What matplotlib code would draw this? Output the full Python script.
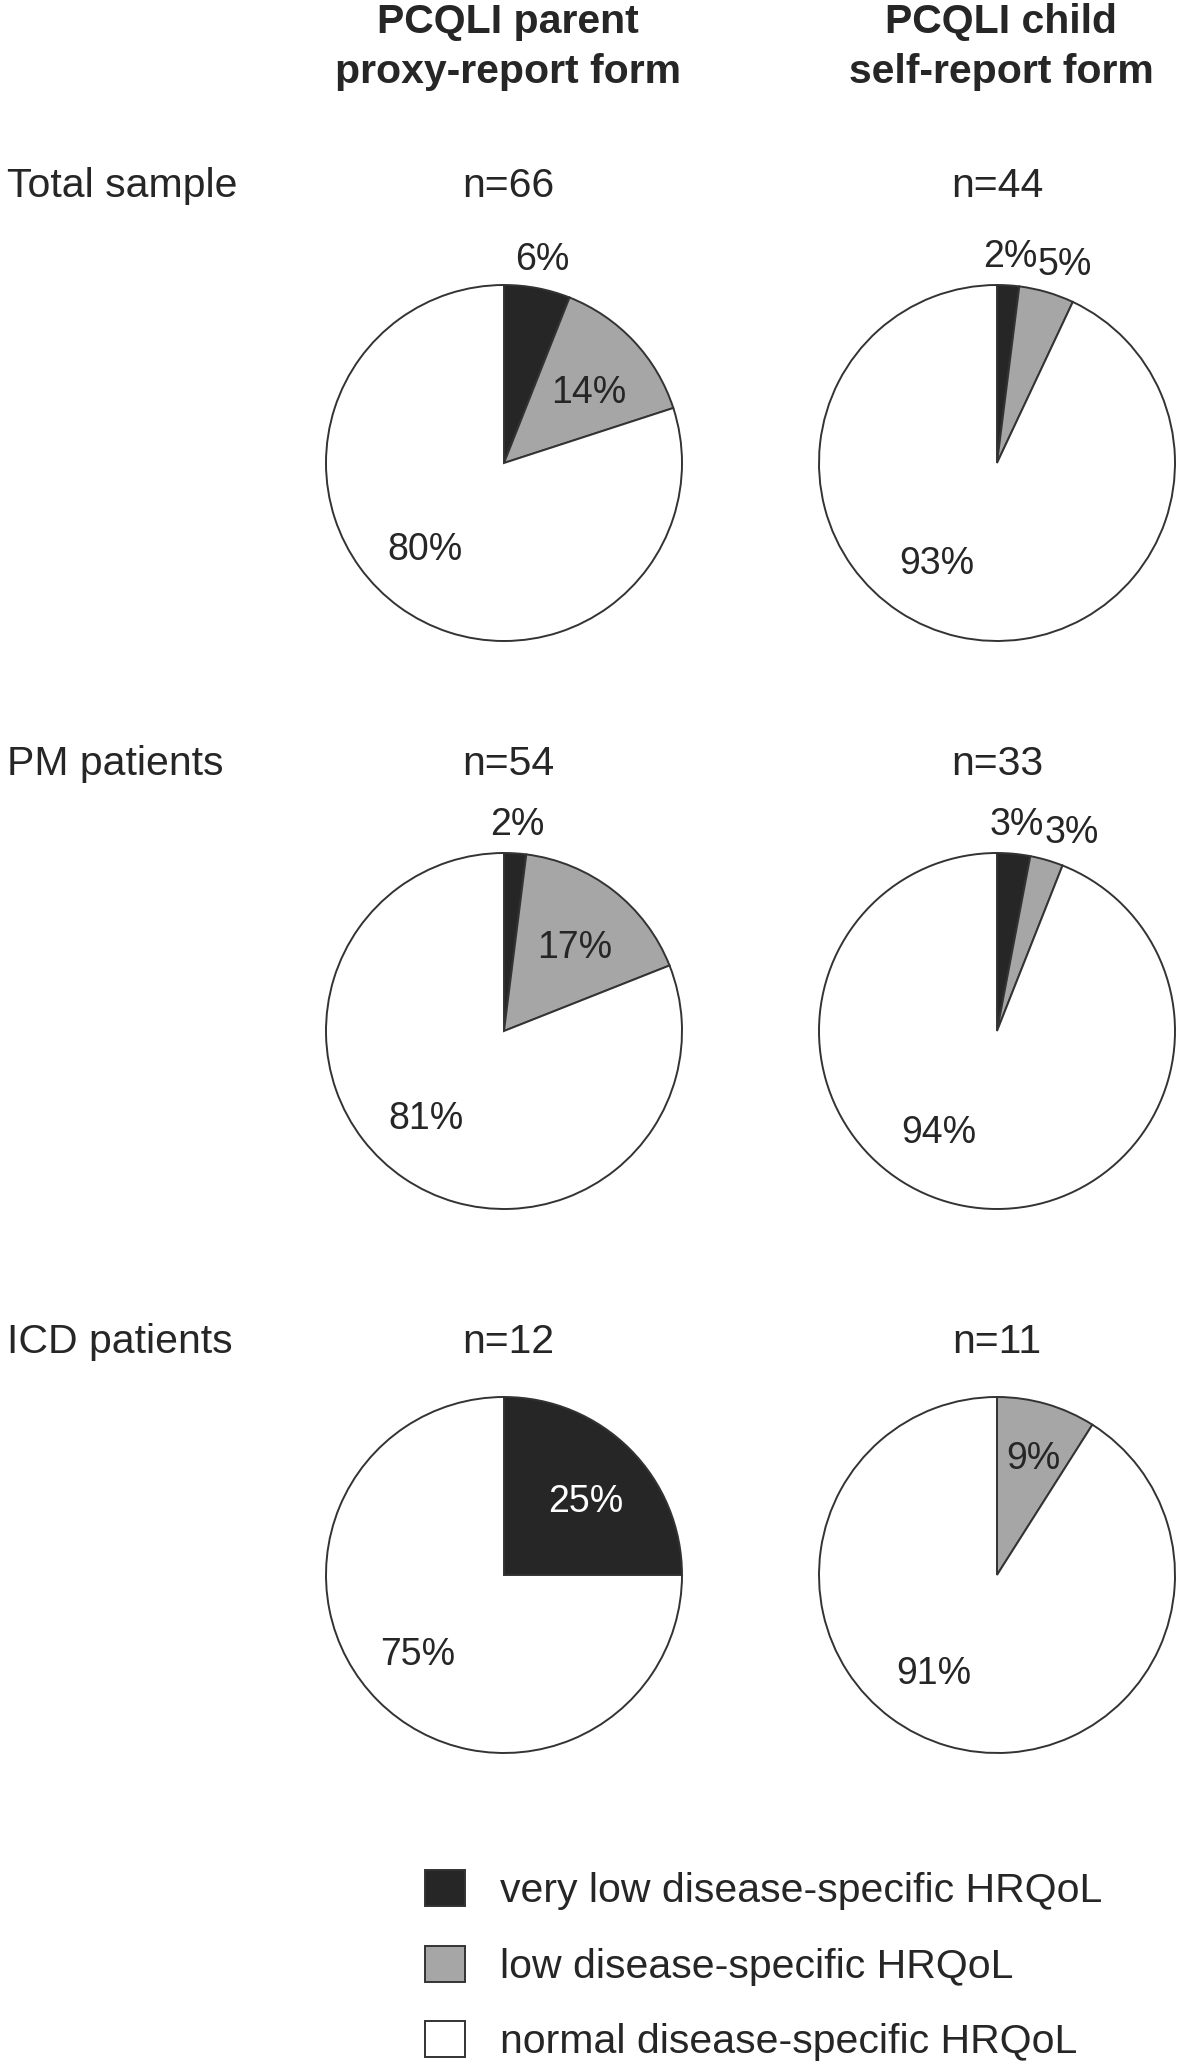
import matplotlib
matplotlib.use('Agg')
import matplotlib.pyplot as plt
from math import cos, sin, radians

plt.rcParams['font.family'] = ['Liberation Sans', 'DejaVu Sans']

# data
categories = ['very low disease-specific HRQoL', 'low disease-specific HRQoL',
              'normal disease-specific HRQoL']
column_titles = ['PCQLI parent\nproxy-report form', 'PCQLI child\nself-report form']
row_titles = ['Total sample', 'PM patients', 'ICD patients']
n_parent = [66, 54, 12]
n_child = [44, 33, 11]
parent_pct = [[6, 14, 80], [2, 17, 81], [25, 0, 75]]
child_pct = [[2, 5, 93], [3, 3, 94], [0, 9, 91]]

colors = ['#262626', '#a6a6a6', '#ffffff']
edge = '#333333'
txt = '#262626'
fs = 29.5

W, H = 1181, 2065
fig = plt.figure(figsize=(W / 100, H / 100), dpi=100)

col_x = [504, 997]
row_y = [463, 1031, 1575]
label_y = [186, 764, 1342]
R = 178
lim = 1.35


def px(x, y):
    return x / W, 1 - y / H


def draw_pie(cx, cy, vals):
    size = 2 * lim * R
    ax = fig.add_axes([(cx - size / 2) / W, (H - cy - size / 2) / H, size / W, size / H])
    wedges, _ = ax.pie(vals, colors=colors, startangle=90, counterclock=False,
                       wedgeprops=dict(edgecolor=edge, linewidth=1.4))
    ax.set_xlim(-lim, lim)
    ax.set_ylim(-lim, lim)
    ax.set_aspect('equal')
    ax.axis('off')
    prev_x = None
    for i, (w, v) in enumerate(zip(wedges, vals)):
        if v == 0:
            continue
        mid = ((w.theta1 + w.theta2) / 2) % 360
        c = txt
        if v > 50:
            # big slice: label pulled toward the lower left
            a = radians(223 + 0.5 * (mid - 225))
            x, y = 0.66 * cos(a), 0.66 * sin(a)
        elif v >= 9:
            r = 0.73 if v < 12 else 0.65
            x, y = r * cos(radians(mid)), r * sin(radians(mid)) - 0.05
            if i == 0:
                c = 'white'
        else:
            x, y = 1.16 * cos(radians(mid)), 1.16 * sin(radians(mid))
            if prev_x is not None and x < prev_x + 0.31:
                x = prev_x + 0.31
            prev_x = x
        ax.text(x, y, '%d%%' % v, ha='center', va='center',
                fontsize=27, color=c, clip_on=False)
    return wedges


# column headers
for x, t in zip(col_x, column_titles):
    fig.text(*px(x + 4, 47), t, ha='center', va='center', fontsize=fs,
             fontweight='bold', color=txt, linespacing=1.38)

first = None
for r in range(3):
    fig.text(*px(7, label_y[r]), row_titles[r], ha='left', va='center',
             fontsize=fs, color=txt)
    fig.text(*px(col_x[0] + 4, label_y[r]), 'n=%d' % n_parent[r], ha='center',
             va='center', fontsize=fs, color=txt)
    fig.text(*px(col_x[1], label_y[r]), 'n=%d' % n_child[r], ha='center',
             va='center', fontsize=fs, color=txt)
    w = draw_pie(col_x[0], row_y[r], parent_pct[r])
    if first is None:
        first = w
    draw_pie(col_x[1], row_y[r], child_pct[r])

leg = fig.legend(first, categories, loc='upper left', bbox_to_anchor=px(425, 1870),
                 frameon=False, fontsize=fs, handlelength=0.97, handleheight=0.97,
                 handletextpad=0.85, labelspacing=0.87, borderpad=0, borderaxespad=0)
for t in leg.get_texts():
    t.set_color(txt)

fig.savefig('out.png', dpi=100, facecolor='white')
